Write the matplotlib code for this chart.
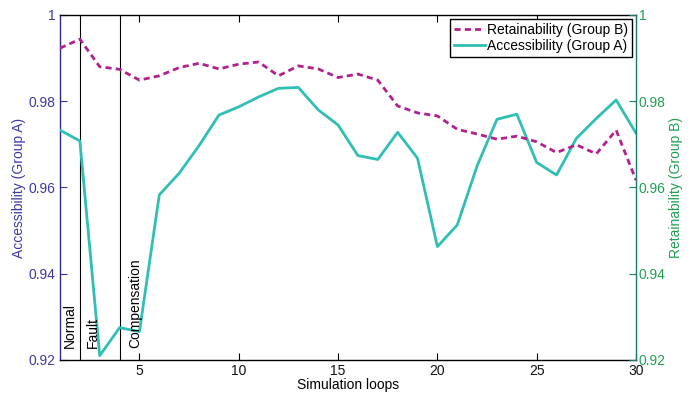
import matplotlib
matplotlib.use("Agg")
import matplotlib.pyplot as plt

plt.rcParams['font.family'] = ['Liberation Sans', 'DejaVu Sans']

loops = list(range(1, 31))
accessibility = [0.9733, 0.9708, 0.9210, 0.9275, 0.9266, 0.9583, 0.9633, 0.9697, 0.9768, 0.9787,
                 0.9810, 0.9830, 0.9832, 0.9780, 0.9745, 0.9674, 0.9665, 0.9728, 0.9668, 0.9463,
                 0.9513, 0.9650, 0.9758, 0.9770, 0.9658, 0.9629, 0.9714, 0.9760, 0.9803, 0.9726]
retainability = [0.9923, 0.9944, 0.9880, 0.9874, 0.9849, 0.9859, 0.9878, 0.9888, 0.9875, 0.9886,
                 0.9891, 0.9859, 0.9882, 0.9875, 0.9855, 0.9863, 0.9849, 0.9789, 0.9773, 0.9766,
                 0.9735, 0.9724, 0.9712, 0.9719, 0.9706, 0.9681, 0.9699, 0.9678, 0.9733, 0.9617]
phase_bounds = [2, 4]
phase_labels = ["Normal", "Fault", "Compensation"]
phase_label_x = [1.5, 2.66, 4.78]
yticks = [0.92, 0.94, 0.96, 0.98, 1.0]
ytick_labels = ["0.92", "0.94", "0.96", "0.98", "1"]
xticks = [5, 10, 15, 20, 25, 30]

teal = "#2fbfb4"
magenta = "#b0218f"
left_col = "#3a3aa8"
right_col = "#1fa050"

fig = plt.figure(figsize=(6.92, 3.94), dpi=100)
ax = fig.add_axes([60/692, 34/394, 576/692, 345/394])
ax2 = ax.twinx()

l1, = ax.plot(loops, accessibility, color=teal, lw=2.0, label="Accessibility (Group A)", zorder=3)
l2, = ax2.plot(loops, retainability, color=magenta, lw=2.0, ls=(0, (2.2, 1.5)),
               label="Retainability (Group B)", zorder=3)

for b in phase_bounds:
    ax.axvline(b, color="black", lw=0.8, zorder=2)
for lab, xx in zip(phase_labels, phase_label_x):
    ax.text(xx, 0.9227, lab, rotation=90, ha="center", va="bottom", fontsize=10, color="black")

ax.set_xlim(1, 30)
ax.set_ylim(0.92, 1.0)
ax2.set_ylim(0.92, 1.0)
ax.set_xticks(xticks)
ax.set_xticklabels([str(t) for t in xticks], fontsize=10, color="#111111")
ax.set_yticks(yticks)
ax.set_yticklabels(ytick_labels, fontsize=10, color=left_col)
ax2.set_yticks(yticks)
ax2.set_yticklabels(ytick_labels, fontsize=10, color=right_col)

ax.tick_params(axis="x", direction="in", top=True, length=5, pad=3)
ax.tick_params(axis="y", direction="in", length=5, colors=left_col, labelcolor=left_col, pad=3)
ax2.tick_params(axis="y", direction="in", length=5, colors="#1a7a6e", labelcolor=right_col, pad=2)

ax.set_xlabel("Simulation loops", fontsize=10, labelpad=0)
ax.set_ylabel("Accessibility (Group A)", fontsize=10, color=left_col, labelpad=2)
ax2.set_ylabel("Retainability (Group B)", fontsize=10, color=right_col, labelpad=2)

for s in ["top", "bottom"]:
    ax.spines[s].set_color("black")
    ax2.spines[s].set_visible(False)
ax.spines["left"].set_color("#2a2a90")
ax.spines["right"].set_visible(False)
ax2.spines["left"].set_visible(False)
ax2.spines["right"].set_color("#1a7a6e")
for a in (ax, ax2):
    for s in a.spines.values():
        s.set_linewidth(1.0)

leg = ax2.legend(handles=[l2, l1], loc="upper right", fontsize=10, frameon=True, fancybox=False,
                 framealpha=1, edgecolor="black", borderpad=0.3, handlelength=2.2,
                 handletextpad=0.15, labelspacing=0.1, borderaxespad=0.3)
leg.get_frame().set_linewidth(1.0)

fig.savefig("out.png", dpi=100)
